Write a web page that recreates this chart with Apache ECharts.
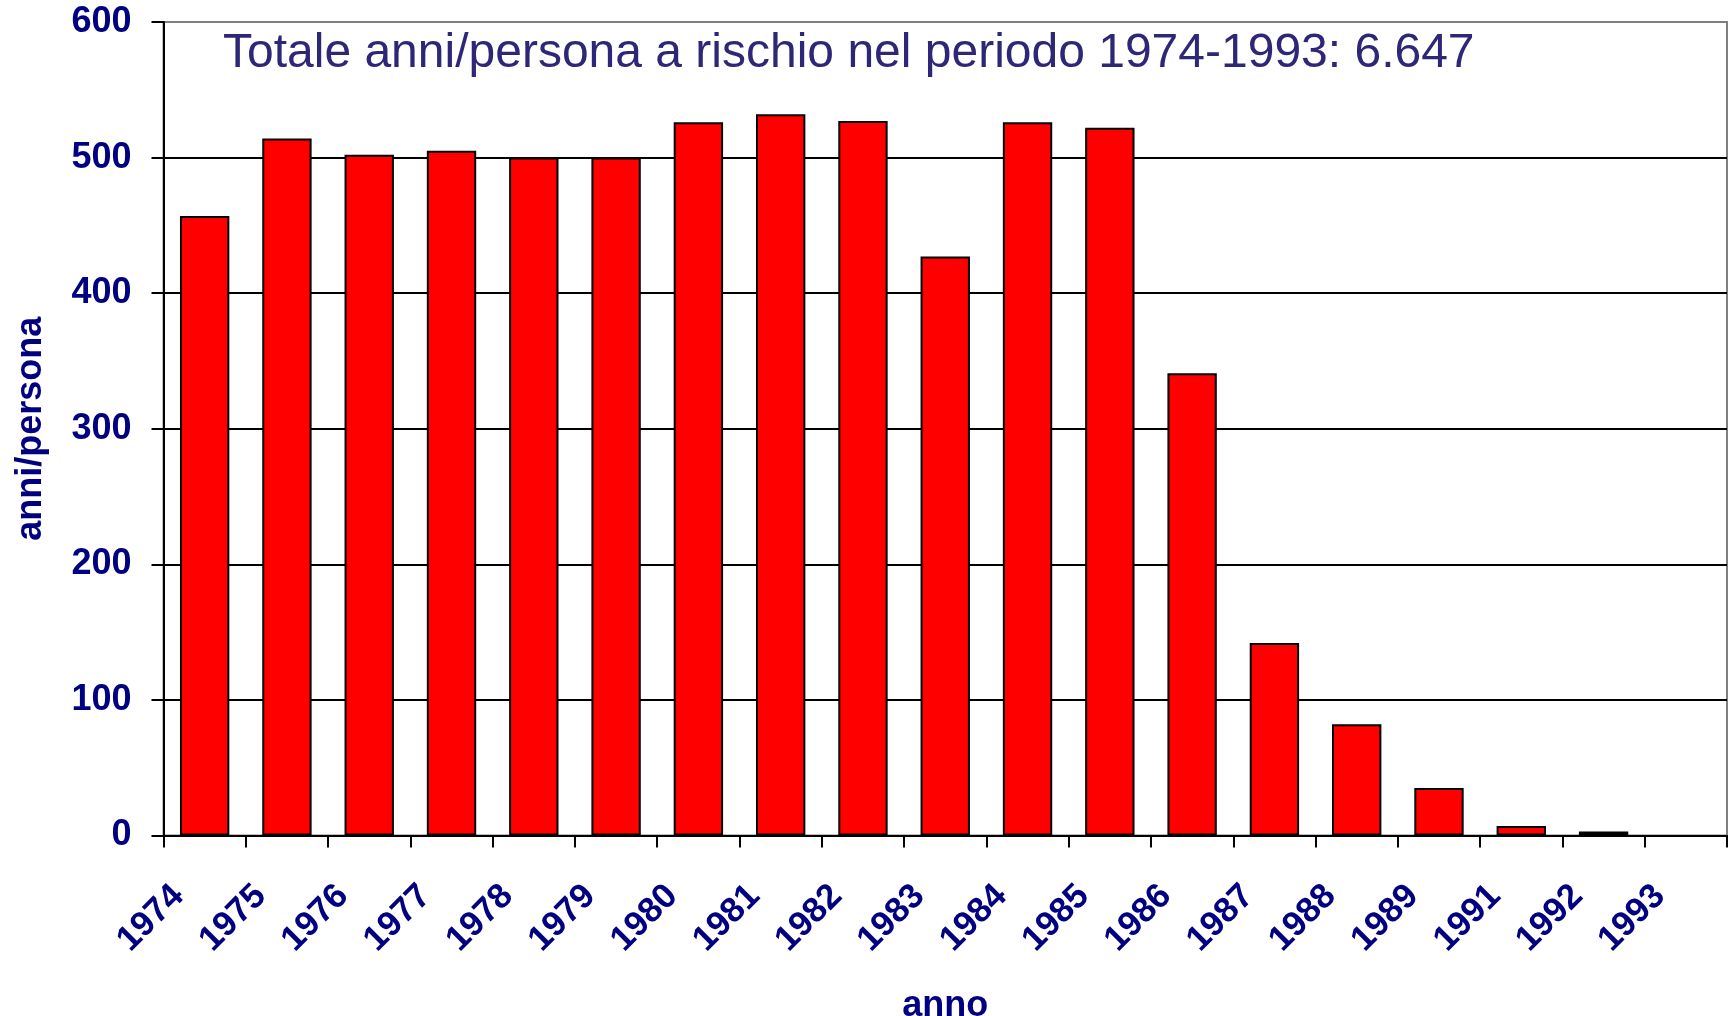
<!DOCTYPE html>
<html>
<head>
<meta charset="utf-8">
<script src="https://cdn.jsdelivr.net/npm/echarts@6/dist/echarts.min.js"></script>
<style>
  html, body { margin: 0; padding: 0; background: #ffffff; }
  #chart { width: 1733px; height: 1016px; }
</style>
</head>
<body>
<div id="chart"></div>
<script>
// Anni/persona a rischio per anno di calendario (1993: nessun contributo)
const years = ['1974', '1975', '1976', '1977', '1978', '1979', '1980', '1981', '1982', '1983',
               '1984', '1985', '1986', '1987', '1988', '1989', '1991', '1992', '1993'];
const personYears = [457, 514, 502, 505, 500, 500, 526, 532, 527, 427,
                     526, 522, 341, 142, 82, 35, 7, 3, null];
const yTicks = { min: 0, max: 600, step: 100 };
const titleText = 'Totale anni/persona a rischio nel periodo 1974-1993: 6.647';
const xName = 'anno';
const yName = 'anni/persona';

const FONT = "'Liberation Sans', Arial, sans-serif";
const NAVY = '#000080';

const chart = echarts.init(document.getElementById('chart'), null, { renderer: 'canvas' });

chart.setOption({
  animation: false,
  backgroundColor: '#ffffff',
  title: {
    text: titleText,
    left: 223,
    top: 30,
    padding: 0,
    textStyle: { fontFamily: FONT, fontSize: 48, fontWeight: 'normal', color: '#2e2777' }
  },
  grid: {
    left: 163.5,
    right: 6,
    top: 22,
    bottom: 180.5,
    show: true,
    borderColor: '#808080',
    borderWidth: 2,
    containLabel: false,
    outerBoundsMode: 'none'
  },
  xAxis: {
    type: 'category',
    data: years,
    boundaryGap: true,
    name: xName,
    nameLocation: 'middle',
    nameGap: 153,
    nameTextStyle: { fontFamily: FONT, fontSize: 36, fontWeight: 'bold', color: NAVY },
    axisLine: { show: true, lineStyle: { color: '#000000', width: 2 } },
    axisTick: { show: true, inside: false, length: 12, alignWithLabel: false, interval: 0,
                lineStyle: { color: '#000000', width: 2 } },
    axisLabel: {
      interval: 0,
      rotate: 45,
      margin: 29,
      padding: [0, 37, 0, 0],
      fontFamily: FONT,
      fontSize: 35,
      fontWeight: 'bold',
      color: NAVY
    },
    splitLine: { show: false }
  },
  yAxis: {
    type: 'value',
    min: yTicks.min,
    max: yTicks.max,
    interval: yTicks.step,
    name: yName,
    nameLocation: 'middle',
    nameRotate: 90,
    nameGap: 114,
    nameTextStyle: { fontFamily: FONT, fontSize: 36, fontWeight: 'bold', color: NAVY },
    axisLine: { show: true, lineStyle: { color: '#000000', width: 2 } },
    axisTick: { show: true, inside: false, length: 12, lineStyle: { color: '#000000', width: 2 } },
    axisLabel: {
      margin: 32,
      fontFamily: FONT,
      fontSize: 36,
      fontWeight: 'bold',
      color: NAVY
    },
    splitLine: {
      show: true,
      lineStyle: {
        color: ['#000000', '#000000', '#000000', '#000000', '#000000', '#000000', '#808080'],
        width: 2
      }
    }
  },
  series: [{
    type: 'bar',
    data: personYears,
    barCategoryGap: '40%',
    itemStyle: { color: '#ff0000', borderColor: '#000000', borderWidth: 2 }
  }]
});
</script>
</body>
</html>
